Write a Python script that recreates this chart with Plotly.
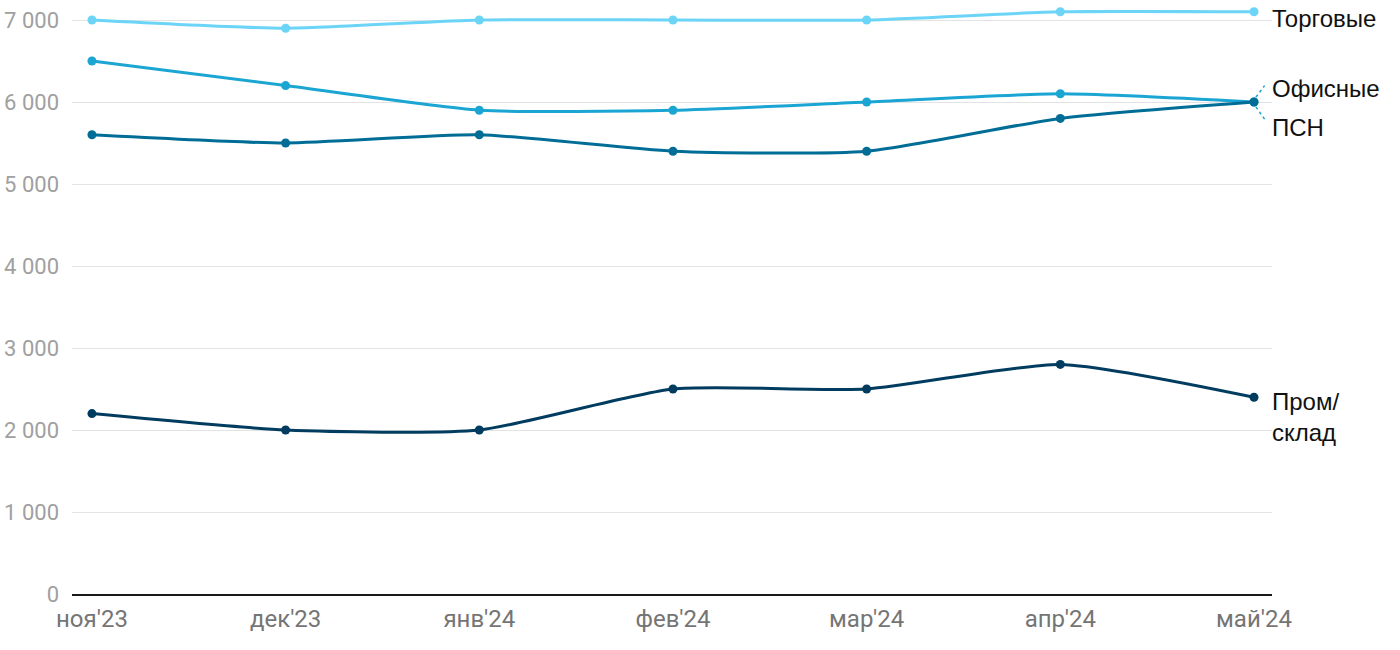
import plotly.graph_objects as go

categories = ["ноя'23", "дек'23", "янв'24", "фев'24", "мар'24", "апр'24", "май'24"]
torgovye = [7000, 6900, 7000, 7000, 7000, 7100, 7100]
ofisnye = [6500, 6200, 5900, 5900, 6000, 6100, 6000]
psn = [5600, 5500, 5600, 5400, 5400, 5800, 6000]
prom = [2200, 2000, 2000, 2500, 2500, 2800, 2400]

y_ticks = [0, 1000, 2000, 3000, 4000, 5000, 6000, 7000]
y_tick_text = ["0", "1 000", "2 000", "3 000", "4 000", "5 000", "6 000", "7 000"]

series = [
    ("Торговые", torgovye, "#6bd4f7"),
    ("Офисные", ofisnye, "#1ba5d3"),
    ("ПСН", psn, "#006d97"),
    ("Пром/<br>склад", prom, "#003c5f"),
]

x_idx = list(range(len(categories)))

fig = go.Figure()
for name, vals, color in series:
    fig.add_trace(go.Scatter(
        x=x_idx, y=vals, mode="lines+markers", name=name,
        line=dict(color=color, width=3, shape="spline", smoothing=0.6),
        marker=dict(color=color, size=9),
        cliponaxis=False, showlegend=False,
    ))

label_font = dict(family="Liberation Sans, Arial, sans-serif", size=24, color="#111111")
label_pos = [("Торговые", 7020), ("Офисные", 6170), ("ПСН", 5685), ("Пром/<br>склад", 2160)]
for text, yv in label_pos:
    fig.add_annotation(x=1.0, y=yv, xref="paper", yref="y", text=text, showarrow=False,
                       xanchor="left", yanchor="middle", align="left", font=label_font,
                       xshift=-2)

# dotted leader lines for labels near overlapping endpoints
fig.add_shape(type="line", xref="x", yref="y", x0=6.01, y0=6060, x1=6.055, y1=6200,
              line=dict(color="#1ba5d3", width=1.5, dash="dot"))
fig.add_shape(type="line", xref="x", yref="y", x0=6.01, y0=5940, x1=6.055, y1=5790,
              line=dict(color="#1ba5d3", width=1.5, dash="dot"))

fig.update_layout(
    width=1400, height=650,
    margin=dict(l=72, r=128, t=10, b=56, autoexpand=False),
    paper_bgcolor="white", plot_bgcolor="white",
    font=dict(family="Roboto, Arial, sans-serif"),
)
fig.update_xaxes(
    range=[-0.103, 6.093], tickvals=x_idx, ticktext=categories,
    showgrid=False, zeroline=False, showline=True, linecolor="#1a1a1a", linewidth=2,
    tickfont=dict(size=24, color="#757575"), ticks="", ticklabelstandoff=2,
    automargin=False, ticklabeloverflow="allow",
)
fig.update_yaxes(
    range=[0, 7122], tickvals=y_ticks, ticktext=y_tick_text,
    showgrid=True, gridcolor="#e3e3e3", gridwidth=1, zeroline=False,
    tickfont=dict(size=22, color="#a0a0a0"), ticks="", ticklabelstandoff=12,
    automargin=False, ticklabeloverflow="allow",
)

fig.write_html("out.html", config={"displayModeBar": False},
               post_script="document.body.style.margin='0';")
